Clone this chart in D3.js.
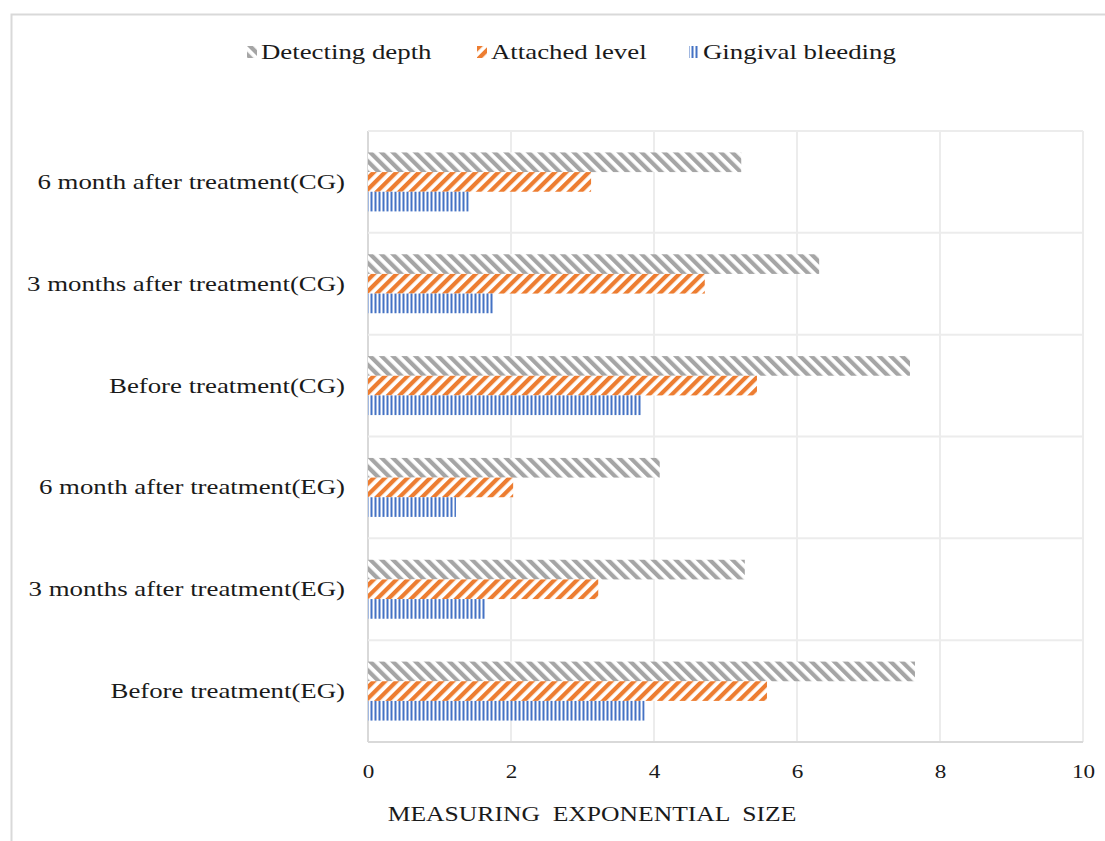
<!DOCTYPE html>
<html>
<head>
<meta charset="utf-8">
<script src="https://cdn.jsdelivr.net/npm/d3@7"></script>
<style>
  body { margin: 0; background: #fff; }
  text { font-family: "Liberation Serif", "Times New Roman", serif; fill: #1a1a1a; }
</style>
</head>
<body>
<svg id="chart" width="1105" height="841"></svg>
<script>
// Categories (top to bottom, as drawn)
var categories = [
  "6 month after treatment(CG)",
  "3 months after treatment(CG)",
  "Before treatment(CG)",
  "6 month after treatment(EG)",
  "3 months after treatment(EG)",
  "Before treatment(EG)"
];
var seriesNames = ["Detecting depth", "Attached level", "Gingival bleeding"];

// valeurs
var detectingDepth = [5.22, 6.31, 7.58, 4.08, 5.27, 7.65];
var attachedLevel = [3.12, 4.71, 5.44, 2.03, 3.22, 5.58];
var gingivalBleeding = [1.41, 1.75, 3.82, 1.23, 1.64, 3.87];
var xTicks = [0, 2, 4, 6, 8, 10];

var seriesValues = [detectingDepth, attachedLevel, gingivalBleeding];
var patternIds = ["pat-gray", "pat-orange", "pat-blue"];

// le texte de l'original est étiré horizontalement
var SX = 1.22;

var svg = d3.select("#chart");

// Motifs de remplissage (hachures)
var defs = svg.append("defs");

var pg = defs.append("pattern")
  .attr("id", "pat-gray")
  .attr("patternUnits", "userSpaceOnUse")
  .attr("width", 8).attr("height", 8)
  .attr("patternTransform", "rotate(-45)");
pg.append("rect").attr("width", 8).attr("height", 8).attr("fill", "#fff");
pg.append("rect").attr("x", 0).attr("width", 4.2).attr("height", 8).attr("fill", "#a5a5a5");

var po = defs.append("pattern")
  .attr("id", "pat-orange")
  .attr("patternUnits", "userSpaceOnUse")
  .attr("width", 8).attr("height", 8)
  .attr("patternTransform", "rotate(45)");
po.append("rect").attr("width", 8).attr("height", 8).attr("fill", "#fff");
po.append("rect").attr("x", 0).attr("width", 4.2).attr("height", 8).attr("fill", "#ed7d31");

var pb = defs.append("pattern")
  .attr("id", "pat-blue")
  .attr("patternUnits", "userSpaceOnUse")
  .attr("x", 369)
  .attr("width", 4).attr("height", 8);
pb.append("rect").attr("width", 4).attr("height", 8).attr("fill", "#fff");
pb.append("rect").attr("x", 1.5).attr("width", 2).attr("height", 8).attr("fill", "#4472c4");

function stretch(sel) {
  sel.each(function() {
    var t = d3.select(this);
    var x0 = +t.attr("x") || 0;
    var y0 = +t.attr("y") || 0;
    t.attr("x", 0).attr("y", 0)
      .attr("transform", "translate(" + x0 + "," + y0 + ") scale(" + SX + ",1)");
  });
}

// Cadre extérieur
svg.append("rect")
  .attr("x", 11.5).attr("y", 14.5)
  .attr("width", 1200).attr("height", 900)
  .attr("fill", "none")
  .attr("stroke", "#d9d9d9")
  .attr("stroke-width", 2);

var plotLeft = 368, plotRight = 1083, plotTop = 131, plotBottom = 742;

var x = d3.scaleLinear().domain([0, 10]).range([plotLeft, plotRight]);
var y0 = d3.scaleBand().domain(categories).range([plotTop, plotBottom]);
var y1 = d3.scaleBand().domain(seriesNames).range([0, y0.bandwidth()]).paddingOuter(1.09);

// Quadrillage vertical
svg.append("g")
  .selectAll("line")
  .data(xTicks)
  .enter()
  .append("line")
  .attr("x1", function(d) { return x(d); })
  .attr("x2", function(d) { return x(d); })
  .attr("y1", plotTop)
  .attr("y2", plotBottom)
  .attr("stroke", function(d) { return d === 0 ? "#d9d9d9" : "#ececec"; })
  .attr("stroke-width", 2);

// Lignes horizontales entre catégories
svg.append("g")
  .selectAll("line")
  .data(categories.concat(["end"]))
  .enter()
  .append("line")
  .attr("x1", plotLeft)
  .attr("x2", plotRight)
  .attr("y1", function(d, i) { return plotTop + i * y0.step(); })
  .attr("y2", function(d, i) { return plotTop + i * y0.step(); })
  .attr("stroke", function(d, i) { return i === categories.length ? "#d9d9d9" : "#ececec"; })
  .attr("stroke-width", 2);

// Barres
seriesNames.forEach(function(s, si) {
  svg.append("g")
    .selectAll("rect")
    .data(seriesValues[si])
    .enter()
    .append("rect")
    .attr("x", x(0))
    .attr("y", function(d, i) { return y0(categories[i]) + y1(s); })
    .attr("height", y1.bandwidth())
    .attr("width", function(d) { return x(d) - x(0); })
    .attr("fill", "url(#" + patternIds[si] + ")");
});

// Axe X
var xAxis = d3.axisBottom(x).tickValues(xTicks).tickSize(0).tickPadding(22);
var gx = svg.append("g")
  .attr("transform", "translate(0," + plotBottom + ")")
  .call(xAxis);
gx.select(".domain").remove();
gx.selectAll("text")
  .attr("font-size", "19px")
  .attr("font-family", "Liberation Serif")
  .attr("fill", "#1a1a1a")
  .call(stretch);

// Axe Y (étiquettes)
var yAxis = d3.axisLeft(y0).tickSize(0).tickPadding(23);
var gy = svg.append("g")
  .attr("transform", "translate(" + plotLeft + ",0)")
  .call(yAxis);
gy.select(".domain").remove();
gy.selectAll("text")
  .attr("font-size", "22px")
  .attr("font-family", "Liberation Serif")
  .attr("fill", "#1a1a1a")
  .call(stretch);

// Titre de l'axe
svg.append("text")
  .attr("x", 592)
  .attr("y", 821)
  .attr("text-anchor", "middle")
  .attr("font-size", "21px")
  .attr("xml:space", "preserve")
  .text("MEASURING  EXPONENTIAL  SIZE")
  .call(stretch);

// Légende
var legendX = [247, 477, 689];
var legend = svg.append("g")
  .selectAll("g")
  .data(seriesNames)
  .enter()
  .append("g")
  .attr("transform", function(d, i) { return "translate(" + legendX[i] + ",46)"; });

legend.append("rect")
  .attr("width", 10)
  .attr("height", 12)
  .attr("fill", function(d, i) { return "url(#" + patternIds[i] + ")"; });

legend.append("text")
  .attr("x", 14)
  .attr("y", 13)
  .attr("font-size", "22px")
  .text(function(d) { return d; })
  .call(stretch);
</script>
</body>
</html>
